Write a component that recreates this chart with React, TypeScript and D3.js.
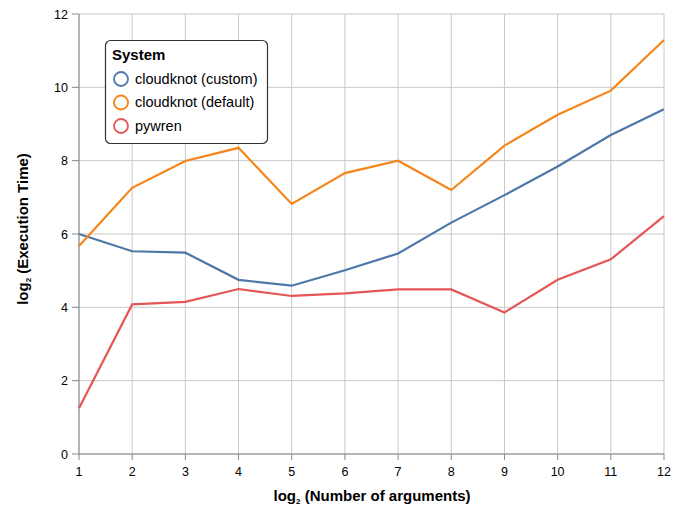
import React from "react";
import * as d3 from "d3";

const xValues = [1, 2, 3, 4, 5, 6, 7, 8, 9, 10, 11, 12];
const seriesNames = ["cloudknot (custom)", "cloudknot (default)", "pywren"];
const customValues = [6.0, 5.53, 5.49, 4.75, 4.59, 5.01, 5.47, 6.31, 7.06, 7.84, 8.7, 9.4];
const defaultValues = [5.67, 7.26, 7.99, 8.35, 6.82, 7.66, 8.0, 7.2, 8.41, 9.25, 9.91, 11.29];
const pywrenValues = [1.25, 4.08, 4.15, 4.5, 4.31, 4.38, 4.49, 4.49, 3.86, 4.75, 5.31, 6.49];
const yTicks = [0, 2, 4, 6, 8, 10, 12];
const colors = ["#4c78a8", "#f58518", "#e45756"];

export default function App() {
  const width = 675;
  const height = 506;
  const x = d3.scaleLinear().domain([1, 12]).range([79, 664]);
  const y = d3.scaleLinear().domain([0, 12]).range([454, 14]);
  const line = d3
    .line<number>()
    .x((_, i) => x(xValues[i]))
    .y((d) => y(d));
  const all = [customValues, defaultValues, pywrenValues];
  const font = "'Liberation Sans', Arial, Helvetica, sans-serif";
  return (
    <svg
      width={width}
      height={height}
      style={{ position: "absolute", left: 0, top: 0, fontFamily: font }}
    >
      <rect width={width} height={height} fill="#fff" />
      {/* grid */}
      {xValues.map((v) => (
        <line key={"gx" + v} x1={x(v)} x2={x(v)} y1={y(12)} y2={y(0)} stroke="#c8c8c8" strokeWidth={1} />
      ))}
      {yTicks.map((v) => (
        <line key={"gy" + v} x1={x(1)} x2={x(12)} y1={y(v)} y2={y(v)} stroke="#c8c8c8" strokeWidth={1} />
      ))}
      {/* axes */}
      <line x1={x(1)} x2={x(12)} y1={y(0)} y2={y(0)} stroke="#888" strokeWidth={1} />
      <line x1={x(1)} x2={x(1)} y1={y(0)} y2={y(12)} stroke="#888" strokeWidth={1} />
      {xValues.map((v) => (
        <g key={"xt" + v}>
          <line x1={x(v)} x2={x(v)} y1={y(0)} y2={y(0) + 6} stroke="#888" />
          <text x={x(v)} y={y(0) + 22} textAnchor="middle" fontSize={12.5} fill="#000">
            {v}
          </text>
        </g>
      ))}
      {yTicks.map((v) => (
        <g key={"yt" + v}>
          <line x1={x(1) - 7} x2={x(1)} y1={y(v)} y2={y(v)} stroke="#888" />
          <text x={x(1) - 11} y={y(v) + 4.5} textAnchor="end" fontSize={12.5} fill="#000">
            {v}
          </text>
        </g>
      ))}
      {/* lines */}
      {all.map((vals, i) => (
        <path key={"l" + i} d={line(vals) || ""} fill="none" stroke={colors[i]} strokeWidth={2.2} />
      ))}
      {/* axis titles */}
      <text x={372} y={501} textAnchor="middle" fontSize={15} fontWeight="bold" fill="#000">
        log<tspan fontSize={8} dy={3}>2</tspan>
        <tspan dy={-3}> (Number of arguments)</tspan>
      </text>
      <text
        transform={`translate(28, 229) rotate(-90)`}
        textAnchor="middle"
        fontSize={15}
        fontWeight="bold"
        fill="#000"
      >
        log<tspan fontSize={8} dy={3}>2</tspan>
        <tspan dy={-3}> (Execution Time)</tspan>
      </text>
      {/* legend */}
      <g>
        <rect x={105.5} y={40.5} width={162} height={103} rx={5} ry={5} fill="#fff" stroke="#333" strokeWidth={1.2} />
        <text x={112} y={60} fontSize={15} fontWeight="bold" fill="#000">
          System
        </text>
        {seriesNames.map((n, i) => (
          <g key={"lg" + i}>
            <circle cx={121} cy={79 + i * 23.5} r={7} fill="none" stroke={colors[i]} strokeWidth={1.8} />
            <text x={135} y={83.5 + i * 23.5} fontSize={14.5} fill="#000">
              {n}
            </text>
          </g>
        ))}
      </g>
    </svg>
  );
}
